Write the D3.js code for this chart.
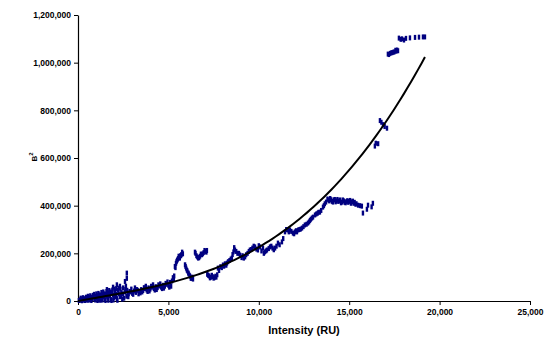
<!DOCTYPE html>
<html>
<head>
<meta charset="utf-8">
<script src="https://cdn.jsdelivr.net/npm/d3@7/dist/d3.min.js"></script>
<style>
  html, body { margin: 0; padding: 0; background: #fff; }
  svg { display: block; font-family: "Liberation Sans", Arial, sans-serif; }
</style>
</head>
<body>
<svg id="chart" width="545" height="337"></svg>
<script>
// ---- data (intensity in RU, B^2 in thousands) ----
const intensity = [
  50,120,180,250,300,350,420,480,520,580,640,700,760,800,860,920,980,1040,1100,1150,
  1200,1260,1320,1380,1420,1480,1540,1600,1600,1650,1700,1760,1820,1880,1940,1940,1980,2040,2100,2150,
  2150,2200,2250,2320,2320,2350,2400,2450,2500,2600,2600,2650,2700,2700,2720,2750,
  150,220,280,380,450,550,620,680,740,830,900,960,1020,1080,1130,1180,1240,1300,1350,1400,
  1460,1520,1580,1630,1680,1730,1790,1850,1900,1960,2020,2070,2120,2180,2280,2380,2480,2550,2620,2680,
  2800,2900,3000,3100,3200,3300,3400,3500,3600,3700,3800,3900,4000,4100,4200,4300,4400,4500,4600,4700,
  4800,4900,5000,5100,5200,5300,2850,3050,3250,3450,3650,3850,4050,4250,4450,4650,4850,5050,
  2780,2950,3150,3350,3550,3750,3950,4150,4350,4550,4750,4950,5150,5250,5320,
  5360,5420,5480,5540,5600,5660,5720,5800,
  5920,5980,6050,6120,6200,6280,6360,
  6470,6550,6650,6750,6850,6950,7050,7130,
  7150,7250,7350,7450,7550,7650,
  5390,5450,5510,5570,5630,5700,5760,5950,6020,6100,6170,6240,6320,
  6500,6600,6700,6800,6900,7000,7100,7200,7300,7400,7500,7600,7700,
  7740,7880,8020,8130,8240,8380,8510,8600,8680,8820,8960,9100,9240,9380,9510,9650,9790,9950,10060,10230,
  10330,10450,10620,10760,10900,11060,11280,11450,11600,11720,11890,12000,12110,12250,12390,12550,12720,12830,12940,13110,
  13250,13380,13550,13650,13720,
  7800,7950,8080,8200,8300,8450,8550,8640,8750,8900,9050,9170,9300,9450,9580,9720,9870,10000,10150,10280,
  10400,10550,10690,10830,10980,11150,11350,11520,11660,11800,11950,12060,12180,12320,12470,12640,12780,12880,13000,13180,
  13300,13450,13600,
  13800,13900,14000,14100,14200,14300,14400,14500,14600,14700,14800,14900,15000,15100,15200,15300,15400,15490,15600,15700,
  13850,13950,14050,14150,14250,14350,14450,14550,14650,14750,14850,14950,15050,15150,15250,15350,
  15760,15980,16040,16240,16310,
  16420,16470,16600,16700,16780,16870,16960,17090,
  17140,17200,17260,17320,17380,17440,17500,17560,17600,17650,17700,
  17750,17850,17920,18030,18140,18360,18640,18860,19080,19190
];
const b2 = [
  2,5,3,8,4,10,6,12,3,9,14,6,16,10,18,8,20,12,22,5,
  15,24,10,26,18,8,28,20,48,12,32,22,6,35,25,58,15,40,28,10,
  68,45,30,18,62,50,35,8,55,38,82,62,117,95,45,25,
  12,1,14,2,16,20,4,22,2,24,28,4,30,2,32,26,3,36,4,38,
  30,2,40,34,3,44,38,2,46,4,50,18,52,3,54,20,30,12,48,20,
  30,38,32,42,36,45,40,48,44,52,46,55,50,58,52,60,56,63,58,66,
  62,70,66,78,84,92,40,28,48,34,56,40,62,46,68,52,74,58,
  18,50,55,30,38,62,42,68,48,72,54,80,62,98,105,
  145,158,170,178,184,190,195,198,
  152,138,126,114,104,96,92,
  205,190,180,188,194,203,208,212,
  112,105,100,102,98,100,
  140,165,175,188,180,190,205,145,130,118,108,95,100,
  200,185,182,197,198,212,205,108,97,108,96,104,110,
  138,144,151,156,159,170,180,206,214,200,193,190,185,200,214,222,227,214,227,222,
  206,214,227,222,222,243,248,290,298,298,285,290,290,300,306,319,327,338,348,361,
  368,373,394,408,415,
  128,140,146,150,165,176,195,224,208,200,182,180,194,208,216,230,218,232,210,200,
  210,220,230,215,230,236,262,300,290,292,282,295,298,302,312,322,332,343,352,365,
  372,380,400,
  428,420,425,415,426,420,418,424,415,420,412,421,418,410,419,414,408,402,400,398,
  424,430,418,424,416,426,420,412,424,414,418,414,422,416,410,406,
  369,385,402,395,410,
  650,662,660,757,750,740,732,725,
  1036,1034,1039,1041,1042,1044,1045,1052,1048,1053,1050,
  1103,1098,1100,1095,1102,1104,1106,1107,1108,1108
];
// polynomial trendline coefficients (B^2 in thousands, intensity in thousands): c1*x + c2*x^2 + c3*x^3
const trendCoef = [13.83, -0.409, 0.1286];
const trendRange = [0, 19190];

const xTicks = [0, 5000, 10000, 15000, 20000, 25000];
const yTicks = [0, 200000, 400000, 600000, 800000, 1000000, 1200000];
const xTitle = "Intensity (RU)";

// ---- layout ----
const svg = d3.select("#chart");
const mLeft = 78, mRight = 530, mTop = 15, mBottom = 301;

const x = d3.scaleLinear().domain([0, 25000]).range([mLeft, mRight]);
const y = d3.scaleLinear().domain([0, 1200000]).range([mBottom, mTop]);
const fmt = d3.format(",");

// axes
const xAxis = d3.axisBottom(x).tickValues(xTicks).tickFormat(fmt).tickSize(4).tickSizeOuter(0);
const yAxis = d3.axisLeft(y).tickValues(yTicks).tickFormat(fmt).tickSize(4).tickSizeOuter(0);

const gx = svg.append("g").attr("transform", `translate(0,${mBottom})`).call(xAxis);
const gy = svg.append("g").attr("transform", `translate(${mLeft},0)`).call(yAxis);
[gx, gy].forEach(g => {
  g.select(".domain").attr("stroke", "#000").attr("stroke-width", 1.2);
  g.selectAll(".tick line").attr("stroke", "#000").attr("stroke-width", 1);
  g.selectAll(".tick text").attr("fill", "#000").style("font-size", "8.5px").style("font-weight", "bold")
    .style("font-family", '"Liberation Sans", Arial, sans-serif');
});
gx.selectAll(".tick text").attr("dy", "0.9em").attr("y", 6);
gy.selectAll(".tick text").attr("x", -7);

// data markers (small vertical dashes)
const pts = intensity.map((v, i) => ({ x: v, y: b2[i] * 1000 }));
svg.append("g").selectAll("rect").data(pts).join("rect")
  .attr("x", d => x(d.x) - 1.2)
  .attr("y", d => y(d.y) - 2.5)
  .attr("width", 2.4)
  .attr("height", 5)
  .attr("fill", "#000080");

// trendline
const tPts = d3.range(0, 101).map(i => {
  const xv = trendRange[0] + (trendRange[1] - trendRange[0]) * i / 100;
  const k = xv / 1000;
  const yv = (trendCoef[0] * k + trendCoef[1] * k * k + trendCoef[2] * k * k * k) * 1000;
  return [xv, yv];
});
svg.append("path")
  .attr("d", d3.line().x(d => x(d[0])).y(d => y(d[1]))(tPts))
  .attr("fill", "none").attr("stroke", "#000").attr("stroke-width", 2);

// axis titles
svg.append("text")
  .attr("x", 304).attr("y", 334)
  .attr("text-anchor", "middle")
  .style("font-size", "11px").style("font-weight", "bold")
  .text(xTitle);

const yt = svg.append("text")
  .attr("transform", `translate(37,157) rotate(-90)`)
  .attr("text-anchor", "middle")
  .style("font-size", "8px").style("font-weight", "bold");
yt.append("tspan").text("B");
yt.append("tspan").attr("dy", "-4").style("font-size", "6px").text("2");
</script>
</body>
</html>
